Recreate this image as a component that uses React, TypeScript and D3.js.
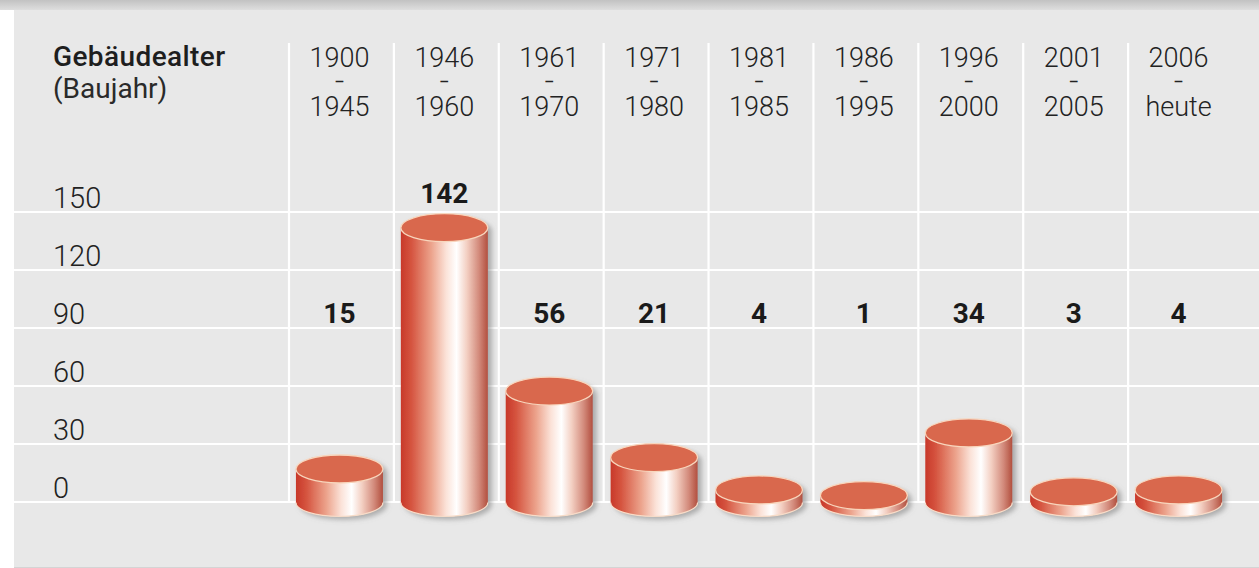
import React from "react";
import * as d3 from "d3";

const periodStart = ["1900", "1946", "1961", "1971", "1981", "1986", "1996", "2001", "2006"];
const periodEnd = ["1945", "1960", "1970", "1980", "1985", "1995", "2000", "2005", "heute"];
const counts = [15, 142, 56, 21, 4, 1, 34, 3, 4];
const yTicks = [0, 30, 60, 90, 120, 150];
const titleLine1 = "Gebäudealter";
const titleLine2 = "(Baujahr)";

const W = 1259;
const H = 568;
const FONT = "Roboto, 'Noto Sans', sans-serif";

export default function App() {
  const yScale = d3.scaleLinear().domain([0, 150]).range([502, 212]);
  const hScale = d3.scaleLinear().domain([0, 150]).range([5, 290]);
  const x = d3.scaleBand<string>().domain(periodStart).range([289, 1233]).paddingInner(0);
  const bw = x.bandwidth();
  const rx = 43.5;
  const ry = 14;
  const baseY = yScale(0) + 0.5;
  const labelRowBase = 323;

  return (
    <svg
      width={W}
      height={H}
      style={{ position: "absolute", left: 0, top: 0, background: "#fff" }}
    >
      <defs>
        <linearGradient id="topband" x1="0" y1="0" x2="0" y2="1">
          <stop offset="0" stopColor="#c2c2c2" />
          <stop offset="1" stopColor="#dedede" />
        </linearGradient>
        <linearGradient id="side" x1="0" y1="0" x2="1" y2="0">
          <stop offset="0" stopColor="#c8382a" />
          <stop offset="0.12" stopColor="#d5543f" />
          <stop offset="0.35" stopColor="#eca38c" />
          <stop offset="0.52" stopColor="#fbe2d8" />
          <stop offset="0.64" stopColor="#ffffff" />
          <stop offset="0.76" stopColor="#f3cfc2" />
          <stop offset="0.9" stopColor="#d2897a" />
          <stop offset="1" stopColor="#b24f3e" />
        </linearGradient>
        <filter id="shadow" x="-20%" y="-20%" width="150%" height="150%">
          <feDropShadow dx="4" dy="3" stdDeviation="2.5" floodColor="#7a7a7a" floodOpacity="0.55" />
        </filter>
      </defs>

      <rect x={0} y={0} width={W} height={10} fill="url(#topband)" />
      <rect x={14} y={10} width={W - 14} height={H - 11} fill="#e8e8e8" />
      <line x1={14} x2={W} y1={567.5} y2={567.5} stroke="#d4d4d4" strokeWidth={1} />

      {/* horizontal grid */}
      {yTicks.map((t) => (
        <line key={"h" + t} x1={14} x2={W} y1={yScale(t)} y2={yScale(t)} stroke="#ffffff" strokeWidth={2.2} />
      ))}
      {/* vertical separators */}
      {periodStart.map((c) => (
        <line key={"v" + c} x1={x(c)!} x2={x(c)!} y1={43} y2={yScale(0)} stroke="#ffffff" strokeWidth={2.2} />
      ))}

      {/* title */}
      <text x={53} y={66} fontFamily={FONT} fontSize={28} fontWeight={500} letterSpacing={0.4} fill="#1e1e1e">
        {titleLine1}
      </text>
      <text x={53} y={98} fontFamily={FONT} fontSize={28} fontWeight={400} fill="#2a2a2a">
        {titleLine2}
      </text>

      {/* y tick labels */}
      {yTicks.map((t) => (
        <text key={"yl" + t} x={53} y={yScale(t) - 4} fontFamily={FONT} fontSize={29} fontWeight={300} fill="#222">
          {t}
        </text>
      ))}

      {/* period headers */}
      {periodStart.map((c, i) => {
        const cx = x(c)! + bw / 2 - 2;
        return (
          <g key={"hd" + c} fontFamily={FONT} fill="#222" textAnchor="middle">
            <text x={cx} y={67} fontSize={27} fontWeight={300}>{c}</text>
            <text
              x={cx - 3.5}
              y={84.5}
              fontSize={11}
              textAnchor="start"
              textLength={7}
              lengthAdjust="spacingAndGlyphs"
              stroke="#222"
              strokeWidth={0.7}
            >
              -
            </text>
            <text x={cx} y={116} fontSize={27} fontWeight={300}>{periodEnd[i]}</text>
          </g>
        );
      })}

      {/* cylinders */}
      {periodStart.map((c, i) => {
        const cx = x(c)! + bw / 2 - 2;
        const h = hScale(counts[i]);
        const topY = baseY - h;
        const body = `M${cx - rx},${topY} L${cx - rx},${baseY} A${rx},${ry} 0 0 0 ${cx + rx},${baseY} L${cx + rx},${topY} Z`;
        return (
          <g key={"cy" + c}>
            <g filter="url(#shadow)">
              <path d={body} fill="url(#side)" />
              <ellipse cx={cx} cy={topY} rx={rx} ry={ry} fill="#d9674e" />
            </g>
            <path
              d={`M${cx - rx},${baseY} A${rx},${ry} 0 0 0 ${cx + rx},${baseY}`}
              fill="none"
              stroke="#f7dcc8"
              strokeWidth={1.2}
            />
            <ellipse cx={cx} cy={topY} rx={rx} ry={ry} fill="none" stroke="#f8d6bd" strokeWidth={1.3} />
          </g>
        );
      })}

      {/* value labels */}
      {periodStart.map((c, i) => {
        const cx = x(c)! + bw / 2 - 2;
        const topY = baseY - hScale(counts[i]);
        const yb = Math.min(labelRowBase, topY - ry - 11);
        return (
          <text
            key={"vl" + c}
            x={cx}
            y={yb}
            textAnchor="middle"
            fontFamily={FONT}
            fontSize={28}
            fontWeight={700}
            fill="#1a1a1a"
          >
            {counts[i]}
          </text>
        );
      })}
    </svg>
  );
}
